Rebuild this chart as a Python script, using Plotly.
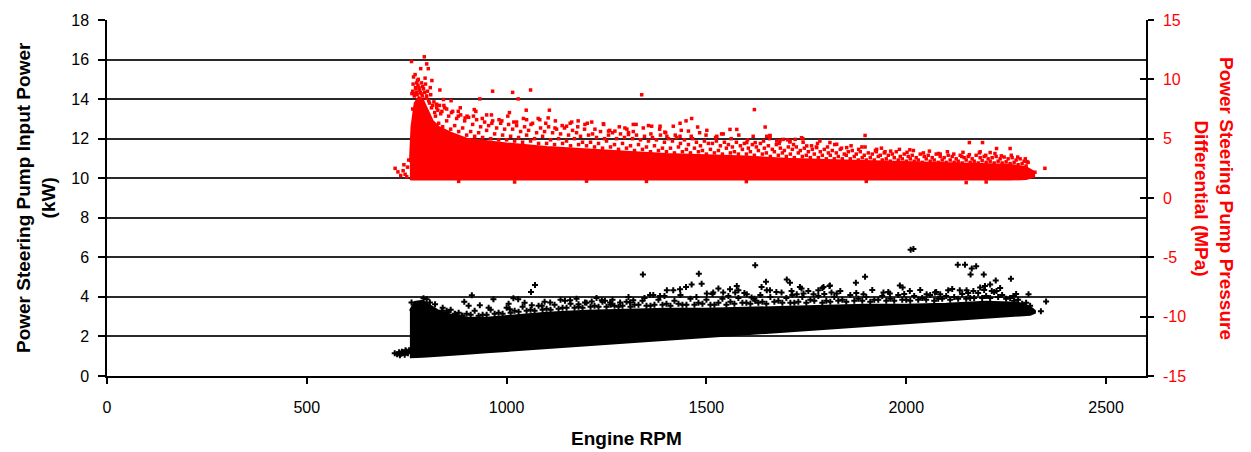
import plotly.graph_objects as go

# ---------------- data ----------------
x_ticks = [0, 500, 1000, 1500, 2000, 2500]
kw_ticks = [0, 2, 4, 6, 8, 10, 12, 14, 16, 18]
mpa_ticks = [-15, -10, -5, 0, 5, 10, 15]
mpa_tick_text = ["-15", "-10", "-5", "0", "5", "10", "15"]

# dense core of the black (input power, kW) cloud: lower / upper edge per RPM
black_core_rpm = [758, 770, 790, 810, 830, 860, 900, 950, 1000, 1100, 1200, 1300, 1400,
                  1500, 1600, 1700, 1800, 1900, 2000, 2100, 2200, 2280, 2310, 2322]
black_core_low = [0.95, 0.95, 0.97, 1.0, 1.02, 1.06, 1.12, 1.2, 1.27, 1.4, 1.55, 1.68, 1.82,
                  1.97, 2.1, 2.25, 2.38, 2.52, 2.65, 2.8, 2.93, 3.05, 3.1, 3.2]
black_core_high = [3.3, 3.75, 3.8, 3.55, 3.3, 3.1, 2.95, 2.95, 3.05, 3.2, 3.3, 3.35, 3.4,
                   3.4, 3.45, 3.5, 3.55, 3.6, 3.6, 3.65, 3.75, 3.7, 3.5, 3.3]

# scattered black points (outliers and tail)
black_pts_rpm = [2011, 2018, 2129, 2147, 2164, 2175, 2161, 2194, 2224, 2262, 1897, 1874, 1793, 1809,
                 1984, 1991, 2009, 2105, 2134, 2151, 2168, 2185, 2197, 2210, 2214, 1813, 1826, 1893,
                 1943, 1959, 2051, 2072, 2085, 2226, 2268, 2306, 2350, 2337,
                 1622, 1341, 1481, 1488, 1463, 1449, 1434, 1417, 1401, 1638, 1649, 1701, 1709, 1734,
                 1738, 1790, 1808, 1530, 1559, 1576, 1580, 1572, 1542, 1651, 1659, 1688, 1713, 1726,
                 1317, 1359, 1367, 1384, 1246, 1259, 1284, 1309, 1501, 1517, 1601, 1613, 1622, 1768,
                 1780, 1743,
                 1071, 1061, 913, 894, 933, 967, 1017, 1029, 1008, 1063, 1088, 762, 792, 800, 808, 821,
                 1109, 1146, 1159, 1180, 1196, 1213, 1238, 1263, 838, 854, 871, 888,
                 720, 726, 731, 736, 741, 745, 749, 753, 756, 733, 738, 747]
black_pts_kw = [6.38, 6.42, 5.63, 5.63, 5.43, 5.55, 5.13, 5.13, 4.83, 4.92, 5.02, 4.72, 4.5, 4.58,
                4.58, 4.47, 4.3, 4.33, 4.33, 4.33, 4.3, 4.47, 4.55, 4.63, 4.3, 4.22, 4.17, 4.13,
                4.22, 4.17, 4.13, 4.22, 4.13, 4.3, 4.05, 4.13, 3.77, 3.27,
                5.6, 5.13, 5.17, 4.67, 4.63, 4.5, 4.38, 4.33, 4.33, 4.5, 4.77, 4.88, 4.72, 4.5,
                4.43, 4.45, 4.55, 4.43, 4.38, 4.55, 4.33, 4.22, 4.22, 4.33, 4.33, 4.22, 4.3, 4.13,
                3.83, 4.1, 4.1, 4.05, 3.8, 3.72, 3.72, 3.72, 4.17, 4.22, 4.13, 3.97, 3.8, 4.13,
                4.33, 4.17,
                4.6, 4.25, 4.08, 3.75, 3.58, 3.88, 3.93, 3.88, 3.38, 3.58, 3.55, 3.72, 3.93, 3.88, 3.72, 3.63,
                3.72, 3.8, 3.83, 3.63, 3.72, 3.77, 3.83, 3.63, 3.3, 3.22, 3.13, 3.05,
                1.15, 1.1, 1.2, 1.12, 1.18, 1.08, 1.25, 1.15, 1.3, 1.05, 1.22, 1.3]

# ragged fringe just above the black core (three rows of points)
black_fringe_a_rpm = [840, 860, 880, 900, 920, 940, 960, 980, 1000, 1020, 1040, 1060, 1080, 1100,
                      1120, 1140, 1160, 1180, 1200, 1220, 1240, 1260, 1280, 1300, 1320, 1340, 1360,
                      1380, 1400, 1420, 1440, 1460, 1480, 1500, 1520, 1540, 1560, 1580, 1600, 1620,
                      1640, 1660, 1680, 1700, 1720, 1740, 1760, 1780, 1800, 1820, 1840, 1860, 1880,
                      1900, 1920, 1940, 1960, 1980, 2000, 2020, 2040, 2060, 2080, 2100, 2120, 2140,
                      2160, 2180, 2200, 2220, 2240, 2260, 2280, 2300]
black_fringe_a_kw = [3.45, 3.35, 3.2, 3.15, 3.3, 3.1, 3.35, 3.2, 3.45, 3.3, 3.5, 3.35, 3.55, 3.4,
                     3.6, 3.45, 3.65, 3.5, 3.7, 3.55, 3.75, 3.6, 3.5, 3.75, 3.6, 3.8, 3.55,
                     3.85, 3.65, 3.8, 3.6, 3.9, 3.7, 3.85, 3.6, 3.9, 3.75, 3.95, 3.7, 3.9,
                     3.75, 4.0, 3.8, 3.95, 3.7, 4.0, 3.85, 4.05, 3.8, 4.0, 3.85, 4.1, 3.9,
                     4.0, 3.85, 4.05, 3.9, 4.1, 3.85, 4.05, 3.95, 4.1, 3.9, 4.05, 4.0, 4.15,
                     3.95, 4.2, 4.05, 4.25, 4.1, 3.95, 3.85, 3.7]
black_fringe_b_rpm = [850, 870, 890, 910, 930, 950, 970, 990, 1010, 1030, 1050, 1070, 1090, 1110,
                      1130, 1150, 1170, 1190, 1210, 1230, 1250, 1270, 1290, 1310, 1330, 1350, 1370,
                      1390, 1410, 1430, 1450, 1470, 1490, 1510, 1530, 1550, 1570, 1590, 1610, 1630,
                      1650, 1670, 1690, 1710, 1730, 1750, 1770, 1790, 1810, 1830, 1850, 1870, 1890,
                      1910, 1930, 1950, 1970, 1990, 2010, 2030, 2050, 2070, 2090, 2110, 2130, 2150,
                      2170, 2190, 2210, 2230, 2250, 2270, 2290, 2310]
black_fringe_b_kw = [3.3, 3.15, 3.05, 3.1, 3.05, 3.1, 3.15, 3.15, 3.2, 3.25, 3.3, 3.3, 3.35, 3.35,
                     3.4, 3.45, 3.45, 3.45, 3.5, 3.5, 3.5, 3.55, 3.55, 3.5, 3.6, 3.55, 3.6,
                     3.6, 3.55, 3.65, 3.6, 3.6, 3.65, 3.6, 3.7, 3.6, 3.65, 3.7, 3.65, 3.7,
                     3.65, 3.75, 3.7, 3.7, 3.75, 3.7, 3.8, 3.7, 3.75, 3.8, 3.75, 3.8, 3.8,
                     3.75, 3.85, 3.8, 3.8, 3.85, 3.8, 3.85, 3.85, 3.8, 3.9, 3.85, 3.9, 3.9,
                     3.95, 3.95, 3.95, 4.0, 3.9, 3.8, 3.65, 3.55]
black_fringe_c_rpm = [905, 955, 1005, 1045, 1095, 1135, 1175, 1225, 1265, 1305, 1345, 1395, 1435,
                      1475, 1515, 1555, 1595, 1635, 1675, 1715, 1755, 1795, 1835, 1875, 1915, 1955,
                      1995, 2035, 2075, 2115, 2155, 2195, 2235, 2275]
black_fringe_c_kw = [3.55, 3.45, 3.65, 3.7, 3.75, 3.85, 3.9, 3.95, 3.85, 4.0, 3.95, 4.05, 4.1,
                     4.0, 4.15, 4.05, 4.2, 4.1, 4.25, 4.1, 4.3, 4.15, 4.3, 4.2, 4.35, 4.25,
                     4.15, 4.35, 4.25, 4.4, 4.2, 4.35, 4.45, 4.15]

# dense core of the red (pressure differential, MPa) cloud
red_core_rpm = [758, 762, 770, 780, 790, 800, 815, 830, 860, 900, 950, 1000, 1100, 1200, 1300,
                1400, 1500, 1600, 1700, 1800, 1900, 2000, 2100, 2200, 2260, 2300, 2320]
red_core_low = [1.6, 1.55, 1.55, 1.55, 1.55, 1.55, 1.55, 1.55, 1.55, 1.55, 1.55, 1.55, 1.55, 1.55, 1.55,
                1.55, 1.55, 1.55, 1.55, 1.55, 1.55, 1.55, 1.55, 1.5, 1.55, 1.6, 1.8]
red_core_high = [3.0, 6.0, 8.0, 8.5, 8.3, 7.5, 6.5, 6.0, 5.5, 5.0, 4.8, 4.6, 4.3, 4.1, 3.9,
                 3.7, 3.6, 3.5, 3.3, 3.2, 3.1, 3.0, 2.9, 2.85, 2.8, 2.6, 2.2]

# scattered red points (outliers, tail, spike)
red_pts_rpm = [794, 762, 800, 785, 804, 767, 777, 775, 796, 813, 833, 965, 1015, 1060, 1029, 933, 842,
               861, 825, 850, 919, 879, 879, 1007, 1107, 1049, 950, 917, 896, 1079, 1104, 1050, 1179,
               1196, 1213, 1242, 963, 988, 1025, 1150, 1121, 1159,
               1338, 1620, 1463, 1449, 1434, 1417, 1317, 1324, 1355, 1384, 1363, 1478, 1501, 1559,
               1576, 1542, 1526, 1647, 1651, 1659, 1741, 1684, 1709, 1271, 1255, 1296, 1305, 1396,
               1401, 1434, 1455, 1601, 1622, 1676, 1722, 1784,
               1897, 2158, 2191, 2260, 2226, 1809, 1826, 1851, 1889, 1926, 1947, 2009, 2085, 2139,
               2185, 2210, 2302, 2322, 1659, 1692, 1709, 1738, 1751, 1776, 2347,
               721, 728, 741, 746, 735, 752, 755, 750, 743,
               1020, 1350, 1600, 1900, 2150, 2200, 880, 1200,
               765, 768, 772, 775, 778, 782, 786, 790, 795, 800, 805, 810, 815, 820, 825, 765,
               763, 766, 769, 771, 773, 776, 779, 781, 784, 787, 789, 792, 797, 799, 802, 807,
               809, 812, 818, 822, 828, 832, 838]
red_pts_mpa = [11.9, 11.5, 11.3, 10.9, 10.9, 10.2, 9.9, 9.7, 10.1, 9.9, 9.1, 9.0, 8.9, 9.1, 8.35, 8.35, 8.3,
               8.2, 7.9, 7.5, 7.45, 7.3, 6.9, 7.2, 7.4, 7.4, 7.0, 6.9, 6.75, 6.7, 6.75, 6.6, 6.5,
               6.2, 6.4, 6.25, 6.3, 6.5, 6.4, 6.05, 5.9, 6.3,
               8.7, 7.45, 6.7, 6.5, 6.3, 6.05, 6.2, 6.2, 6.1, 6.05, 6.05, 5.98, 5.7, 5.78,
               5.78, 5.4, 5.2, 5.98, 5.2, 5.2, 5.0, 4.8, 4.8, 5.64, 5.64, 5.9, 5.35, 5.55,
               5.2, 5.2, 5.64, 4.67, 4.67, 4.8, 4.94, 4.8,
               5.27, 4.67, 4.67, 4.17, 4.17, 4.67, 4.53, 4.25, 4.3, 4.1, 3.9, 4.06, 3.7, 3.5,
               3.9, 3.83, 3.06, 2.17, 5.27, 4.94, 4.72, 5.08, 4.39, 4.25, 2.5,
               2.5, 2.2, 2.3, 2.0, 1.9, 2.6, 3.2, 1.8, 2.8,
               1.35, 1.4, 1.38, 1.4, 1.3, 1.35, 1.4, 1.42,
               9.0, 8.8, 9.3, 8.9, 9.5, 9.1, 8.8, 9.4, 8.9, 8.6, 8.2, 8.7, 7.8, 7.2, 7.6, 7.5,
               8.8, 9.6, 8.6, 10.4, 9.2, 8.7, 10.0, 9.3, 8.9, 9.7, 8.6, 9.2, 9.6, 8.4, 9.0, 8.0,
               9.3, 7.6, 8.1, 6.9, 7.4, 7.8, 7.3]

# speckled fringe above the red core: three rows of points per RPM column
red_fringe_lo_rpm = [830, 840, 850, 860, 870, 880, 890, 900, 910, 920, 930, 940, 950, 960, 970, 980,
                     990, 1000, 1010, 1020, 1030, 1040, 1050, 1060, 1070, 1080, 1090, 1100, 1110,
                     1120, 1130, 1140, 1150, 1160, 1170, 1180, 1190, 1200, 1210, 1220, 1230, 1240,
                     1250, 1260, 1270, 1280, 1290, 1300, 1310, 1320, 1330, 1340, 1350, 1360, 1370,
                     1380, 1390, 1400, 1410, 1420, 1430, 1440, 1450, 1460, 1470, 1480, 1490, 1500,
                     1510, 1520, 1530, 1540, 1550, 1560, 1570, 1580, 1590, 1600, 1610, 1620, 1630,
                     1640, 1650, 1660, 1670, 1680, 1690, 1700, 1710, 1720, 1730, 1740, 1750, 1760,
                     1770, 1780, 1790, 1800, 1810, 1820, 1830, 1840, 1850, 1860, 1870, 1880, 1890,
                     1900, 1910, 1920, 1930, 1940, 1950, 1960, 1970, 1980, 1990, 2000, 2010, 2020,
                     2030, 2040, 2050, 2060, 2070, 2080, 2090, 2100, 2110, 2120, 2130, 2140, 2150,
                     2160, 2170, 2180, 2190, 2200, 2210, 2220, 2230, 2240, 2250, 2260, 2270, 2280,
                     2290, 2300]
red_fringe_lo_mpa = [6.3, 6.0, 6.5, 5.8, 6.1, 5.6, 5.9, 5.3, 5.6, 5.2, 5.5, 5.1, 5.7, 5.0, 5.4, 4.9,
                     5.3, 4.9, 5.2, 4.8, 5.1, 4.7, 5.3, 4.8, 5.0, 4.6, 5.2, 4.6, 4.9,
                     4.5, 5.0, 4.6, 4.8, 4.4, 5.0, 4.5, 4.7, 4.4, 4.7, 4.3, 4.6, 4.2,
                     4.8, 4.3, 4.5, 4.1, 4.6, 4.2, 4.4, 4.0, 4.5, 4.1, 4.3, 3.9, 4.4,
                     4.0, 4.2, 3.9, 4.2, 3.8, 4.3, 3.9, 4.1, 3.8, 4.2, 3.9, 4.0, 3.7,
                     4.1, 3.8, 4.0, 3.7, 4.2, 3.8, 3.9, 3.7, 4.1, 3.7, 3.9, 3.6, 4.0,
                     3.7, 3.8, 3.5, 3.9, 3.6, 3.8, 3.5, 3.7, 3.4, 3.8, 3.5, 3.6, 3.4,
                     3.7, 3.4, 3.6, 3.3, 3.6, 3.3, 3.5, 3.3, 3.6, 3.3, 3.5, 3.2, 3.4,
                     3.2, 3.4, 3.2, 3.5, 3.2, 3.3, 3.1, 3.4, 3.2, 3.3, 3.1, 3.3, 3.1,
                     3.2, 3.0, 3.3, 3.1, 3.2, 3.0, 3.2, 3.0, 3.2, 3.0, 3.1, 2.95, 3.2,
                     3.0, 3.1, 2.95, 3.15, 3.0, 3.1, 2.95, 3.1, 2.95, 3.05, 2.9, 3.0, 2.8,
                     2.9, 2.7]
red_fringe_hi_rpm = [835, 845, 855, 865, 875, 885, 895, 905, 915, 925, 935, 945, 955, 965, 975, 985,
                     995, 1005, 1015, 1025, 1035, 1045, 1055, 1065, 1075, 1085, 1095, 1105, 1115,
                     1125, 1135, 1145, 1155, 1165, 1175, 1185, 1195, 1205, 1215, 1225, 1235, 1245,
                     1255, 1265, 1275, 1285, 1295, 1305, 1315, 1325, 1335, 1345, 1355, 1365, 1375,
                     1385, 1395, 1405, 1415, 1425, 1435, 1445, 1455, 1465, 1475, 1485, 1495, 1505,
                     1515, 1525, 1535, 1545, 1555, 1565, 1575, 1585, 1595, 1605, 1615, 1625, 1635,
                     1645, 1655, 1665, 1675, 1685, 1695, 1705, 1715, 1725, 1735, 1745, 1755, 1765,
                     1775, 1785, 1795, 1805, 1815, 1825, 1835, 1845, 1855, 1865, 1875, 1885, 1895,
                     1905, 1915, 1925, 1935, 1945, 1955, 1965, 1975, 1985, 1995, 2005, 2015, 2025,
                     2035, 2045, 2055, 2065, 2075, 2085, 2095, 2105, 2115, 2125, 2135, 2145, 2155,
                     2165, 2175, 2185, 2195, 2205, 2215, 2225, 2235, 2245, 2255, 2265, 2275, 2285,
                     2295, 2305]
red_fringe_hi_mpa = [7.1, 7.6, 6.9, 7.3, 6.7, 7.0, 6.5, 6.8, 6.2, 6.6, 6.0, 6.4, 6.1, 6.5, 5.9, 6.3,
                     5.8, 6.2, 5.8, 6.1, 5.6, 6.0, 5.7, 6.3, 5.5, 5.9, 5.6, 6.0, 5.5,
                     5.8, 5.4, 5.9, 5.3, 5.7, 5.5, 5.2, 5.8, 5.3, 5.4, 5.1, 5.6, 5.0,
                     5.3, 5.5, 5.0, 5.4, 5.1, 5.5, 5.0, 5.3, 4.9, 5.2, 4.8, 5.1, 4.9,
                     5.3, 4.7, 5.0, 4.8, 5.1, 4.6, 4.9, 4.5, 5.0, 4.7, 4.4, 4.8, 4.6,
                     4.6, 4.8, 4.4, 4.7, 4.5, 4.3, 4.7, 4.4, 4.6, 4.2, 4.5, 4.3, 4.6,
                     4.2, 4.4, 4.1, 4.5, 4.2, 4.0, 4.3, 4.1, 4.3, 4.0, 4.2, 3.9, 4.1,
                     4.3, 3.9, 4.1, 3.8, 4.0, 3.8, 4.1, 3.7, 3.9, 4.0, 3.7, 3.9, 3.6,
                     3.8, 3.7, 3.9, 3.6, 3.8, 3.6, 3.7, 3.9, 3.5, 3.7, 3.5, 3.6, 3.4,
                     3.7, 3.5, 3.6, 3.4, 3.7, 3.5, 3.4, 3.6, 3.5, 3.3, 3.6, 3.4, 3.5,
                     3.3, 3.6, 3.4, 3.5, 3.3, 3.4, 3.5, 3.3, 3.45, 3.3, 3.4, 3.2, 3.3,
                     3.1, 3.0]
red_fringe_top_rpm = [843, 862, 884, 901, 923, 939, 962, 981, 1003, 1018, 1042, 1061, 1083, 1098,
                      1122, 1139, 1163, 1178, 1202, 1221, 1243, 1258, 1282, 1301, 1317, 1342, 1361,
                      1383, 1398, 1422, 1437, 1462, 1483, 1499, 1523, 1538, 1562, 1581, 1603, 1617,
                      1643, 1658, 1682, 1703, 1718, 1742, 1763, 1778, 1803, 1821, 1838, 1862, 1881,
                      1897, 1923, 1938, 1961, 1983, 2002, 2018, 2043, 2058, 2081, 2103, 2119, 2142,
                      2158, 2183, 2199, 2222, 2238, 2263, 2279, 2298]
red_fringe_top_mpa = [7.8, 7.2, 7.6, 6.9, 7.3, 6.7, 7.0, 6.6, 6.9, 6.4, 6.7, 6.2, 6.6, 6.3,
                      6.5, 6.1, 6.4, 6.0, 6.3, 5.8, 6.2, 5.7, 6.0, 5.8, 5.6, 5.9, 5.4,
                      5.8, 5.5, 5.3, 5.7, 5.2, 5.5, 5.3, 5.1, 5.4, 5.0, 5.3, 4.9, 5.2,
                      4.8, 5.0, 4.6, 4.9, 4.5, 4.7, 4.4, 4.6, 4.3, 4.5, 4.2, 4.4, 4.1,
                      4.3, 4.0, 4.2, 3.95, 4.1, 3.85, 4.0, 3.8, 3.95, 3.75, 3.9, 3.7, 3.85,
                      3.65, 3.8, 3.6, 3.75, 3.55, 3.6, 3.45, 3.3]

# ---------------- styling ----------------
RED = "#FF0000"
TICK_FONT = dict(family="Liberation Sans, Arial", size=16, color="black")
TITLE_FONT = "Liberation Sans, Arial"
BLACK_MARK = dict(symbol="cross", size=5, color="black", line=dict(width=0))
RED_MARK = dict(symbol="square", size=3.5, color=RED, line=dict(width=0))

fig = go.Figure()

# black cloud (left axis)
fig.add_trace(go.Scatter(
    x=black_core_rpm + black_core_rpm[::-1],
    y=black_core_low + black_core_high[::-1],
    mode="lines", fill="toself", fillcolor="black",
    line=dict(color="black", width=2), hoverinfo="skip", yaxis="y"))
for xs, ys in [(black_pts_rpm, black_pts_kw),
               (black_fringe_a_rpm, black_fringe_a_kw),
               (black_fringe_b_rpm, black_fringe_b_kw),
               (black_fringe_c_rpm, black_fringe_c_kw)]:
    fig.add_trace(go.Scatter(x=xs, y=ys, mode="markers", marker=BLACK_MARK, yaxis="y"))

# red cloud (right axis)
fig.add_trace(go.Scatter(
    x=red_core_rpm + red_core_rpm[::-1],
    y=red_core_low + red_core_high[::-1],
    mode="lines", fill="toself", fillcolor=RED,
    line=dict(color=RED, width=2), hoverinfo="skip", yaxis="y2"))
for xs, ys in [(red_pts_rpm, red_pts_mpa),
               (red_fringe_lo_rpm, red_fringe_lo_mpa),
               (red_fringe_hi_rpm, red_fringe_hi_mpa),
               (red_fringe_top_rpm, red_fringe_top_mpa)]:
    fig.add_trace(go.Scatter(x=xs, y=ys, mode="markers", marker=RED_MARK, yaxis="y2"))

# empty trace that carries the inner tick marks of the right axis
fig.add_trace(go.Scatter(x=[], y=[], yaxis="y3", hoverinfo="skip"))

fig.update_layout(
    width=1251, height=452,
    margin=dict(l=107, r=105, t=16, b=76),
    plot_bgcolor="white", paper_bgcolor="white",
    showlegend=False,
    xaxis=dict(range=[0, 2600], tickvals=x_ticks, ticks="outside", ticklen=6,
               tickcolor="black", tickwidth=1.5, showline=True, linecolor="black",
               linewidth=1.5, showgrid=False, zeroline=False, tickfont=TICK_FONT,
               ticklabelstandoff=10),
    yaxis=dict(range=[0, 18], tickvals=kw_ticks, ticks="outside", ticklen=7,
               tickcolor="black", tickwidth=1.5, showline=True, linecolor="black",
               linewidth=1.5, showgrid=True, gridcolor="#2a2a2a", gridwidth=1.5,
               zeroline=False, tickfont=TICK_FONT, ticklabelstandoff=6),
    yaxis2=dict(range=[-15, 15], tickvals=mpa_ticks, ticktext=mpa_tick_text,
                overlaying="y", side="right",
                ticks="outside", ticklen=6, tickcolor="black", tickwidth=1.5,
                showline=True, linecolor="black", linewidth=1.5, showgrid=False,
                zeroline=False, tickfont=dict(TICK_FONT, color=RED), ticklabelstandoff=6),
    yaxis3=dict(range=[-15, 15], tickvals=mpa_ticks, overlaying="y", side="right",
                ticks="inside", ticklen=6, tickcolor="black", tickwidth=1.5,
                showline=False, showgrid=False, zeroline=False, showticklabels=False),
)

fig.add_annotation(text="<b>Engine RPM</b>", xref="paper", yref="paper", x=0.5, y=0,
                   yshift=-62, showarrow=False, xanchor="center", yanchor="middle",
                   font=dict(family=TITLE_FONT, size=19, color="black"))
fig.add_annotation(text="<b>Power Steering Pump Input Power<br>(kW)</b>", xref="paper", yref="paper",
                   x=0, y=0.5, xshift=-71, showarrow=False, textangle=-90,
                   xanchor="center", yanchor="middle",
                   font=dict(family=TITLE_FONT, size=19, color="black"))
fig.add_annotation(text="<b>Power Steering Pump Pressure<br>Differential (MPa)</b>", xref="paper", yref="paper",
                   x=1, y=0.5, xshift=68, showarrow=False, textangle=90,
                   xanchor="center", yanchor="middle",
                   font=dict(family=TITLE_FONT, size=19, color=RED))

fig.write_html("out.html")
